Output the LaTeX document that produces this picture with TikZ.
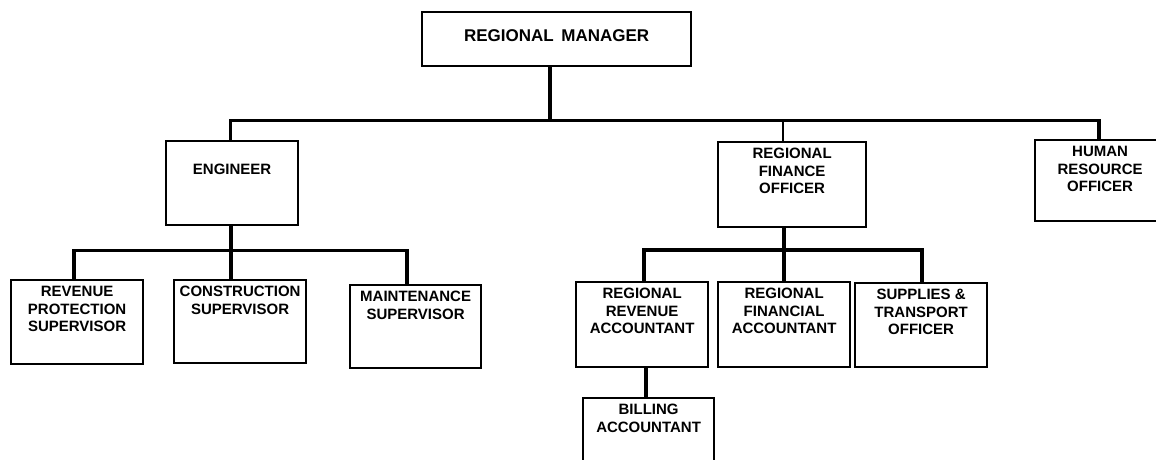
\documentclass[tikz,border=0pt]{standalone}
\usepackage{fontspec}
\setmainfont{Liberation Sans}
\tikzset{
  x=1pt, y=1pt,
  orgbox/.style={draw=black, line width=2.2pt, fill=white, inner sep=0pt, anchor=north west},
  orgtext/.style={font=\fontsize{15}{17.5}\selectfont\bfseries, align=center, inner sep=0pt, anchor=north},
  conn/.style={draw=black, line width=3.2pt},
  thinconn/.style={draw=black, line width=1.4pt},
}
% \orgbox{name}{left}{top}{width}{height}{text offset}{text}
\newcommand\orgbox[7]{%
  \node[orgbox, minimum width=#4pt, minimum height=#5pt] (#1) at (#2,-#3) {};
  \node[orgtext] (#1-text) at ([yshift=-#6pt]#1.north) {#7};
}
\begin{document}
\begin{tikzpicture}
\useasboundingbox (0,0) rectangle (1156,-459);
\clip (0,0) rectangle (1156,-459);

% top level
\node[orgbox, minimum width=269pt, minimum height=54pt] (rm) at (421,-11) {};
\node[orgtext, font=\fontsize{17}{20}\selectfont\bfseries] (rm-text) at ([yshift=-18pt]rm.north) {REGIONAL\hspace{0.45em}MANAGER};

% second level
\orgbox{eng}{165}{140}{132}{84}{24}{ENGINEER}
\orgbox{rfo}{717}{141}{148}{85}{7}{REGIONAL\\FINANCE\\OFFICER}
\orgbox{hr}{1034}{139}{130}{81}{7}{HUMAN\\RESOURCE\\OFFICER}

% third level
\orgbox{rps}{10}{279}{132}{84}{7}{REVENUE\\PROTECTION\\SUPERVISOR}
\orgbox{con}{173}{279}{132}{83}{7}{CONSTRUCTION\\SUPERVISOR}
\orgbox{mnt}{349}{284}{131}{83}{7}{MAINTENANCE\\SUPERVISOR}
\orgbox{rra}{575}{281}{132}{85}{7}{REGIONAL\\REVENUE\\ACCOUNTANT}
\orgbox{rfa}{717}{281}{132}{85}{7}{REGIONAL\\FINANCIAL\\ACCOUNTANT}
\orgbox{sto}{854}{282}{132}{84}{7}{SUPPLIES \&\\TRANSPORT\\OFFICER}

% fourth level
\orgbox{bil}{582}{397}{131}{85}{7}{BILLING\\ACCOUNTANT}

% bus junctions
\coordinate (j1)  at (550,-120.5);
\coordinate (b1w) at (230.5,-120.5);
\coordinate (b1e) at (1099,-120.5);
\coordinate (j2)  at (783,-120.5);
\coordinate (b2w) at (74,-250.5);
\coordinate (b2e) at (407,-250.5);
\coordinate (j3)  at (231,-250.5);
\coordinate (b3w) at (644,-250);
\coordinate (b3e) at (922,-250);
\coordinate (j4)  at (784,-250);
\coordinate (j5)  at (646,-380);

% connectors
\draw[conn] (rm.south -| j1) -- (j1);
\draw[conn] (eng.north -| b1w) -- (b1w) -- (b1e) -- (hr.north -| b1e);
\draw[thinconn] (j2) -- (rfo.north -| j2);

\draw[conn] (eng.south -| j3) -- (j3);
\draw[conn] (rps.north -| b2w) -- (b2w) -- (b2e) -- (mnt.north -| b2e);
\draw[conn] (j3) -- (con.north -| j3);

\draw[conn] (rfo.south -| j4) -- (rfa.north -| j4);
\draw[conn] (rra.north -| b3w) -- (b3w) -- (b3e) -- (sto.north -| b3e);

\draw[conn] (rra.south -| j5) -- (bil.north -| j5);
\end{tikzpicture}
\end{document}
